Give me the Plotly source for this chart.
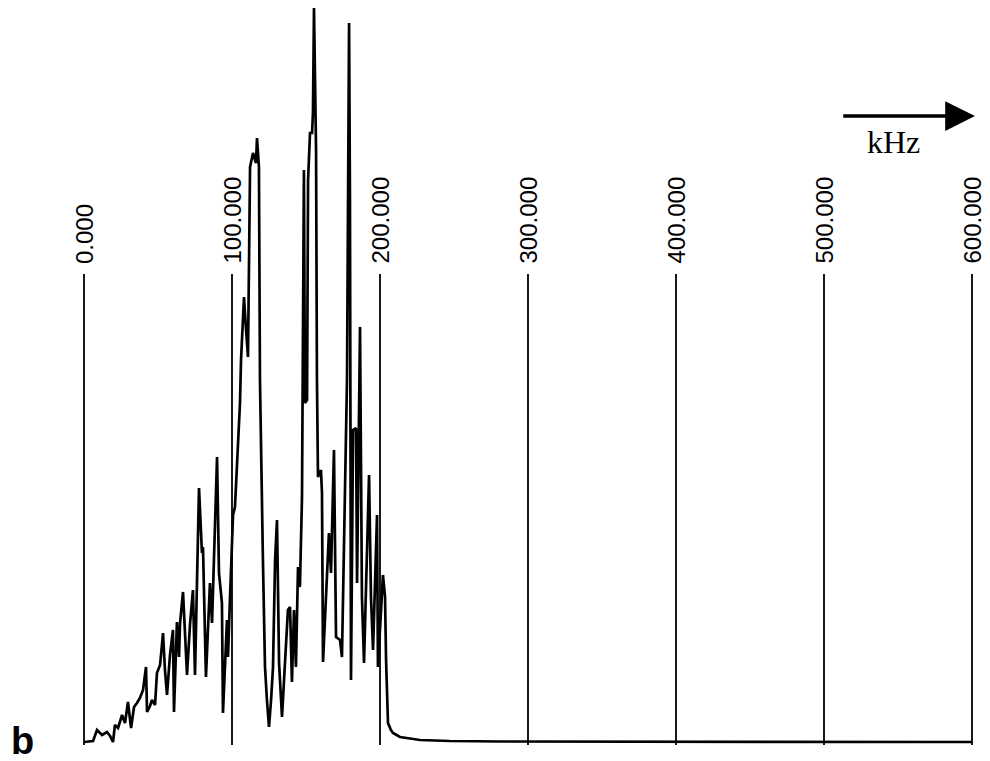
import plotly.graph_objects as go

# Spectrum trace (frequency in kHz, amplitude in arbitrary units)
freq_khz = [0.0, 6.1, 8.8, 12.2, 15.5, 17.6, 19.6, 20.9, 23.0, 25.7, 27.7, 29.7, 31.8, 33.8, 35.8,
            37.8, 39.9, 41.9, 42.6, 44.6, 45.9, 48.0, 49.3, 51.4, 53.4, 54.7, 56.1, 58.1, 60.1, 60.8,
            62.8, 64.2, 64.9, 66.9, 69.6, 71.6, 73.6, 75.0, 77.7, 79.7, 80.4, 82.4, 85.1, 86.5, 89.9,
            91.2, 93.2, 93.9, 96.6, 97.3, 98.6, 100.7, 102.0, 104.1, 105.4, 106.1, 108.1, 109.5, 110.8,
            112.2, 114.2, 116.2, 116.9, 118.2, 118.9, 120.9, 122.3, 123.6, 125.0, 126.4, 127.7, 129.1,
            130.4, 131.8, 133.8, 135.8, 137.8, 139.2, 140.5, 141.9, 143.2, 144.6, 145.9, 147.3, 148.6,
            149.3, 150.7, 151.4, 152.7, 154.1, 154.7, 155.4, 156.8, 157.4, 158.1, 160.1, 160.8, 161.5,
            164.2, 165.5, 166.9, 168.9, 170.3, 173.0, 174.3, 176.4, 177.7, 179.1, 179.7, 180.4, 181.8,
            183.8, 184.5, 186.5, 187.8, 189.2, 191.2, 192.6, 193.9, 195.3, 198.0, 198.6, 202.0, 203.4,
            204.1, 205.4, 207.4, 208.8, 213.5, 218.2, 227.0, 247.3, 281.1, 600.0]
amplitude = [0, 1, 12, 7, 10, 6, 0, 17, 14, 27, 19, 40, 14, 35, 39,
             44, 52, 75, 30, 36, 42, 37, 69, 77, 109, 72, 47, 87, 112, 30,
             120, 85, 119, 150, 67, 117, 152, 67, 254, 189, 195, 65, 159, 119, 285,
             169, 139, 29, 122, 85, 142, 227, 235, 302, 339, 382, 445, 412, 385,
             575, 589, 579, 604, 575, 362, 182, 75, 42, 15, 42, 75, 182,
             222, 79, 25, 79, 132, 135, 60, 132, 75, 175, 155, 245, 572,
             339, 342, 562, 609, 609, 629, 734, 592, 362, 265, 272, 249, 80,
             169, 209, 169, 292, 105, 102, 85, 262, 362, 719, 542, 62, 312,
             314, 159, 415, 145, 79, 182, 267, 145, 92, 227, 75, 167, 145,
             82, 19, 12, 9, 5, 4, 2, 1, 0.5, 0]

tick_khz = [0, 100, 200, 300, 400, 500, 600]
tick_labels = ["0.000", "100.000", "200.000", "300.000", "400.000", "500.000", "600.000"]

GRID_TOP = 468
GRID_BOTTOM = -3

fig = go.Figure()

# vertical reference lines with rotated labels
for t, lab in zip(tick_khz, tick_labels):
    fig.add_shape(type="line", x0=t, x1=t, y0=GRID_BOTTOM, y1=GRID_TOP,
                  xref="x", yref="y", line=dict(color="black", width=1.8), layer="below")
    fig.add_annotation(x=t, y=GRID_TOP + 8, xref="x", yref="y", text=lab,
                       textangle=-90, showarrow=False, xanchor="center", yanchor="bottom",
                       font=dict(family="Liberation Sans, Arial, sans-serif", size=24, color="black"))

fig.add_trace(go.Scatter(x=freq_khz, y=amplitude, mode="lines",
                         line=dict(color="black", width=2.7), hoverinfo="skip", showlegend=False))

# kHz arrow
fig.add_annotation(x=602, y=626, ax=512, ay=626, xref="x", yref="y", axref="x", ayref="y",
                   text="", showarrow=True, arrowhead=2, arrowsize=1.7, arrowwidth=3.5,
                   arrowcolor="black")
fig.add_annotation(x=(893 - 84) / 1.48, y=742 - 142, xref="x", yref="y", text="kHz",
                   showarrow=False, xanchor="center", yanchor="middle",
                   font=dict(family="Liberation Serif, Times New Roman, serif", size=32, color="black"))

# panel letter
fig.add_annotation(x=22 / 990, y=(761 - 741) / 761, xref="paper", yref="paper", text="<b>b</b>",
                   showarrow=False, xanchor="center", yanchor="middle",
                   font=dict(family="Liberation Sans, Arial, sans-serif", size=38, color="black"))

fig.update_xaxes(range=[-84 / 1.48, (990 - 84) / 1.48], visible=False, fixedrange=True)
fig.update_yaxes(range=[-19, 742], visible=False, fixedrange=True)
fig.update_layout(width=990, height=761, margin=dict(l=0, r=0, t=0, b=0),
                  plot_bgcolor="white", paper_bgcolor="white")

fig.write_html("out.html", config={"displayModeBar": False},
               post_script="document.body.style.margin='0';document.body.style.overflow='hidden';")
